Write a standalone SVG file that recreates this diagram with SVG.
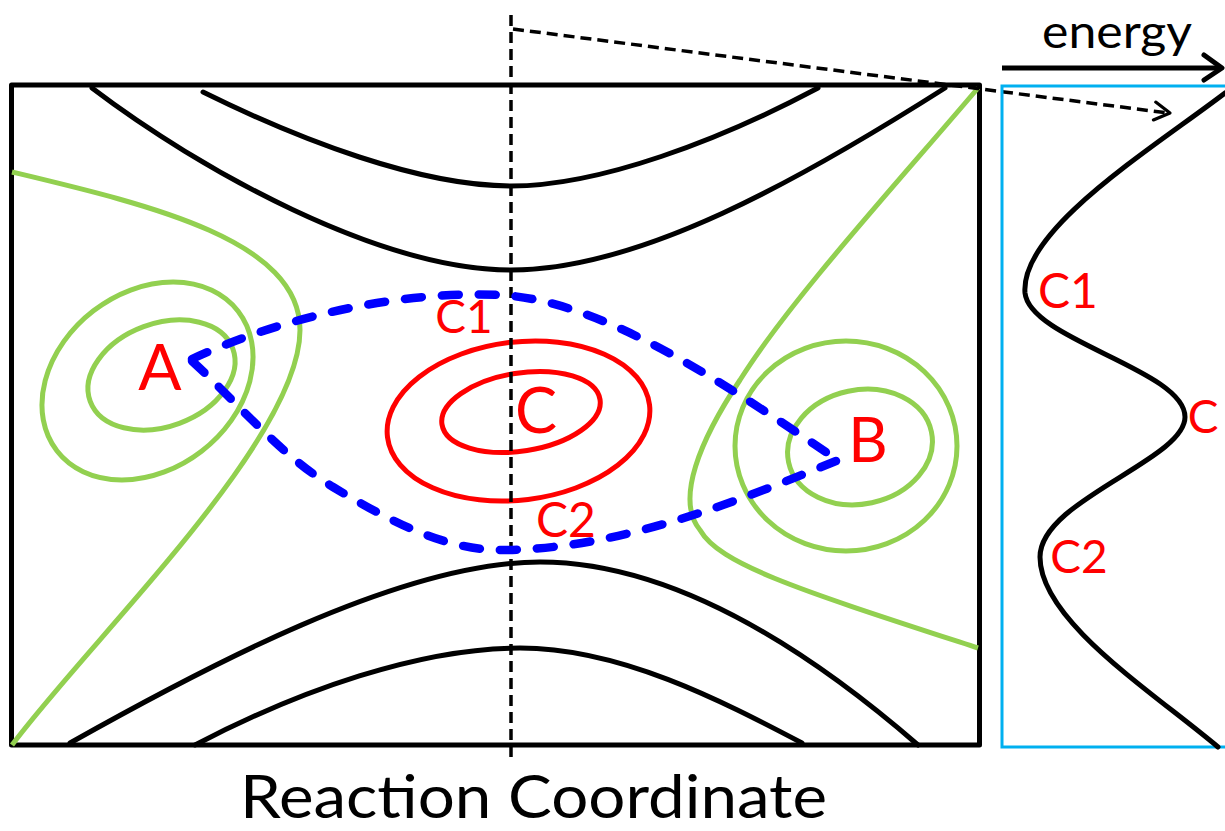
<svg xmlns="http://www.w3.org/2000/svg" width="1225" height="831" viewBox="0 0 1225 831">
<style>
.blk{fill:none;stroke:#000;stroke-width:5;stroke-linecap:round}
.grn{fill:none;stroke:#92D050;stroke-width:5}
.red{fill:none;stroke:#FF0000;stroke-width:5}
.path{fill:none;stroke:#0000FF;stroke-width:8.5;stroke-linecap:round;stroke-dasharray:17 20}
.vdash{fill:none;stroke:#000;stroke-width:3.5;stroke-dasharray:11 6}
.lbl{font-family:Lato,"Liberation Sans",sans-serif;fill:#FF0000;text-anchor:middle}
.txt{font-family:Lato,"Liberation Sans",sans-serif;fill:#000}
</style>
<rect width="1225" height="831" fill="#fff"/>
<g id="surface">
  <rect x="11.5" y="85" width="968" height="660" fill="none" stroke="#000" stroke-width="5" stroke-linejoin="round"/>
  <path class="blk" d="M203,92 C300,140 420,186 511,186 C600,186 720,140 818,88"/>
  <path class="blk" d="M92,88 C200,170 380,270 511,270 C640,270 800,180 945,88"/>
  <path class="blk" d="M70,743 C200,670 400,562 540,562 C680,562 820,660 918,745"/>
  <path class="blk" d="M195,745 C300,690 420,648 520,648 C620,648 720,700 802,743"/>
  <path class="grn" d="M12,172 C150,205 300,240 300,330 C300,440 90,640 12,745"/>
  <path class="grn" d="M978,88 C900,180 790,300 740,380 C700,440 675,500 700,530 C720,565 800,590 978,648"/>
</g>
<g id="node-A">
  <ellipse class="grn" cx="147.5" cy="381" rx="114.4" ry="88.6" transform="rotate(-37.6 147.5 381)"/>
  <ellipse class="grn" cx="161.5" cy="375" rx="76" ry="51.5" transform="rotate(-20.3 161.5 375)"/>
  <text class="lbl" x="160" y="390" font-size="64">A</text>
</g>
<g id="node-B">
  <ellipse class="grn" cx="846" cy="446" rx="111" ry="105"/>
  <ellipse class="grn" cx="860" cy="447" rx="73" ry="57" transform="rotate(-12 860 447)"/>
  <text class="lbl" x="868" y="462" font-size="61">B</text>
</g>
<g id="node-C">
  <ellipse class="red" cx="518.5" cy="421" rx="132" ry="79" transform="rotate(-7 518.5 421)"/>
  <ellipse class="red" cx="521" cy="412" rx="80" ry="39" transform="rotate(-9 521 412)"/>
  <text class="lbl" x="536" y="433" font-size="63">C</text>
</g>
<g id="connectors">
  <line class="vdash" x1="511" y1="15" x2="511" y2="760"/>
  <line class="vdash" x1="513" y1="29" x2="1168" y2="113" stroke-dasharray="14 7" stroke-width="3.2"/>
  <polyline points="1155.7,102.1 1170,113 1153.4,119.9" fill="none" stroke="#000" stroke-width="3.2" stroke-linecap="round" stroke-linejoin="round"/>
  <path class="path" d="M192,359 C280,318 400,290 500,295 C600,300 720,380 836,459"/>
  <path class="path" d="M192,361 C240,405 280,455 333,487 C380,515 440,550 500,550 C620,550 740,500 836,461"/>
</g>
<g id="label-C1">
  <text class="lbl" x="464" y="333" font-size="46">C1</text>
</g>
<g id="label-C2">
  <text class="lbl" x="566" y="537" font-size="48">C2</text>
</g>
<g id="energy-panel">
  <rect x="1002" y="86" width="260" height="661" fill="none" stroke="#00B0F0" stroke-width="3"/>
  <line x1="1002" y1="68" x2="1219" y2="68" stroke="#000" stroke-width="5"/>
  <polyline points="1204,55 1222,68 1204,80" fill="none" stroke="#000" stroke-width="5" stroke-linecap="round" stroke-linejoin="round"/>
  <text class="txt" x="1042" y="48" font-size="46" textLength="150" lengthAdjust="spacingAndGlyphs">energy</text>
  <path class="blk" d="M1225,93 C1150,150 1020,230 1025,293 C1030,340 1185,370 1185,417 C1185,460 1040,500 1040,557 C1040,620 1150,690 1218,747"/>
  <text class="lbl" x="1068" y="308" font-size="48">C1</text>
  <text class="lbl" x="1203" y="433" font-size="46">C</text>
  <text class="lbl" x="1079" y="573" font-size="46">C2</text>
</g>
<g id="axis-label">
  <text class="txt" x="240" y="818" font-size="60" textLength="587" lengthAdjust="spacingAndGlyphs">Reaction Coordinate</text>
</g>
</svg>
